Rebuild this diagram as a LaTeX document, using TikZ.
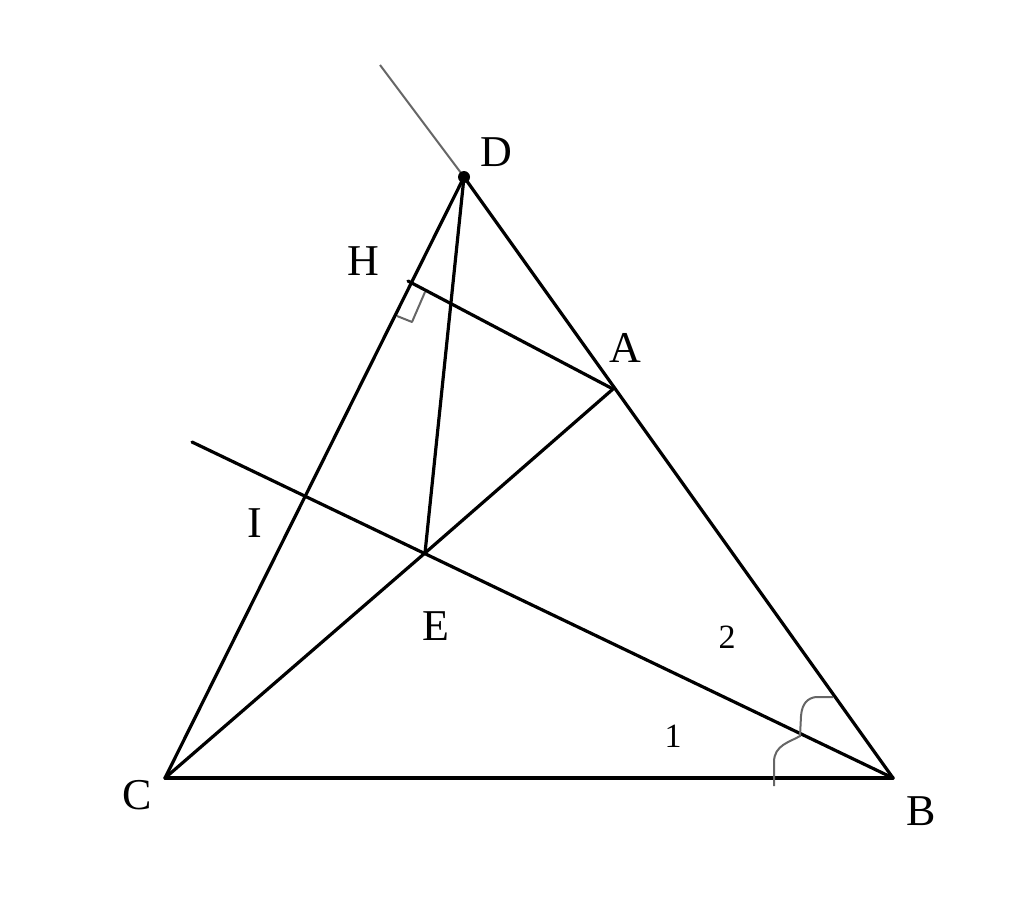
\documentclass[tikz,border=0pt]{standalone}
\usepackage{fontspec}
\setmainfont{Liberation Serif}
\begin{document}
\begin{tikzpicture}[x=1pt,y=-1pt,
  seg/.style={line width=3.2pt,black,line cap=round},
  thin/.style={line width=2pt,black!60},
  lab/.style={font=\fontsize{44}{44}\selectfont,inner sep=0pt},
  num/.style={font=\fontsize{34}{34}\selectfont,inner sep=0pt}]
\useasboundingbox (0,0) rectangle (1024,922);
\coordinate (C) at (165,778);
\coordinate (B) at (893,778);
\coordinate (D) at (464,177);
\coordinate (A) at (613,389);
\coordinate (E) at (425,553);
\coordinate (H) at (408,281);
\coordinate (I) at (305,496);
\coordinate (P) at (192,442);
\coordinate (Q) at (380,65);
% main lines
\draw[thin] (D) -- (Q);
\draw[seg] (C) -- (B);
\draw[seg] (C) -- (D);
\draw[seg] (D) -- (B);
\draw[seg] (D) -- (E);
\draw[seg] (C) -- (E);
\draw[seg] (E) -- (A);
\draw[seg] (H) -- (A);
\draw[seg] (P) -- (B);
\fill (D) circle (6pt);
% right angle mark at H
\draw[thin,line join=round] (397,316) -- (412,322) -- (425,292);
% angle marks at B
\draw[thin] (774,786) -- (774,762) .. controls (774,745) and (790,742) .. (800,736)
  -- (801,716) .. controls (802,703) and (808,698) .. (816,697) -- (833,697);
% labels
\node[lab] (lD) at (496,152) {D};
\node[lab] (lH) at (363,261) {H};
\node[lab] (lA) at (625,348) {A};
\node[lab] (lI) at (255,523) {I};
\node[lab] (lE) at (436,626) {E};
\node[lab] (lC) at (137,795) {C};
\node[lab] (lB) at (921,811) {B};
\node[num] (n2) at (727,637) {2};
\node[num] (n1) at (673,736) {1};
\end{tikzpicture}
\end{document}
